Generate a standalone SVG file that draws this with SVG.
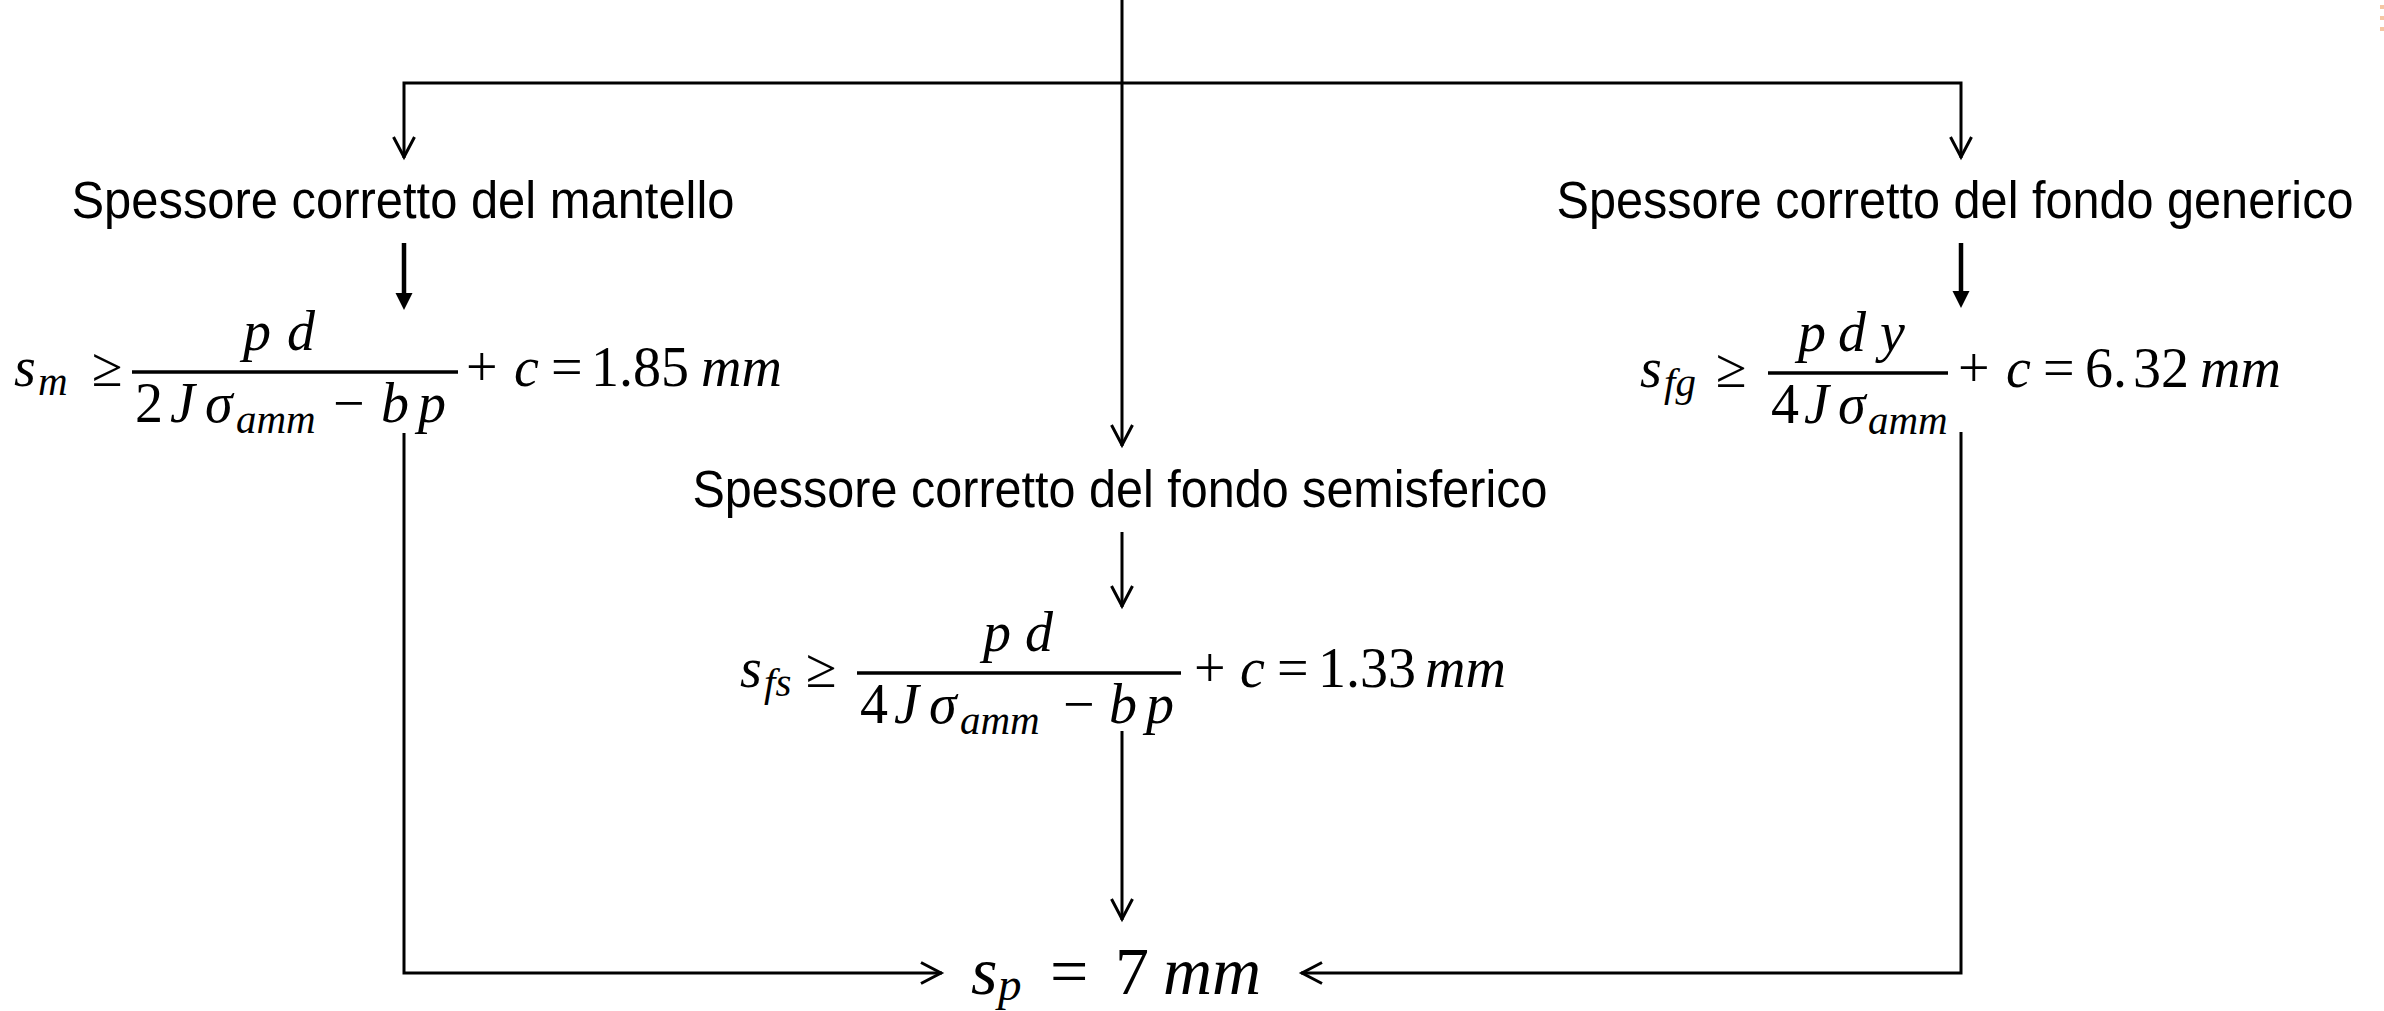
<svg xmlns="http://www.w3.org/2000/svg" width="2384" height="1011" viewBox="0 0 2384 1011">
<style>
.lbl{font-family:"Liberation Sans",Arial,sans-serif;font-size:51px;fill:#000;text-anchor:middle}
.mi{font-family:"Liberation Serif","Times New Roman",serif;font-size:56px;font-style:italic;fill:#000}
.mn{font-family:"Liberation Serif","Times New Roman",serif;font-size:56px;fill:#000}
.sb{font-size:41px}
.big{font-size:68px}
.sbb{font-size:47px}
.frac{stroke:#000;stroke-width:3.5}
.thin{fill:none;stroke:#000;stroke-width:3}
.thick{fill:none;stroke:#000;stroke-width:4.5}
</style>
<defs>
<marker id="chev" viewBox="-25 -15 30 30" markerWidth="30" markerHeight="30" refX="1" refY="0" orient="auto-start-reverse" markerUnits="userSpaceOnUse">
<path d="M-20,-10.5 L0,0 L-20,10.5" fill="none" stroke="#000" stroke-width="3"/>
</marker>
<marker id="tri" viewBox="-5 -10 22 20" markerWidth="22" markerHeight="20" refX="0" refY="0" orient="auto" markerUnits="userSpaceOnUse">
<path d="M-3,-8.5 L14,0 L-3,8.5 Z" fill="#000"/>
</marker>
</defs>
<rect width="2384" height="1011" fill="#fff"/>
<g id="connectors">
<path class="thin" d="M1122,0 V446" marker-end="url(#chev)"/>
<path class="thin" d="M404,158 V83 H1961 V158" marker-start="url(#chev)" marker-end="url(#chev)"/>
<path class="thick" d="M404,243 V296" marker-end="url(#tri)"/>
<path class="thick" d="M1961,243 V294" marker-end="url(#tri)"/>
<path class="thin" d="M1122,532 V607" marker-end="url(#chev)"/>
<path class="thin" d="M1122,731 V920" marker-end="url(#chev)"/>
<path class="thin" d="M404,433 V973 H942" marker-end="url(#chev)"/>
<path class="thin" d="M1961,432 V973 H1301" marker-end="url(#chev)"/>
</g>
<g id="n-mantello">
<text class="lbl" x="403" y="218" textLength="663" lengthAdjust="spacingAndGlyphs">Spessore corretto del mantello</text>
</g>
<g id="n-generico">
<text class="lbl" x="1955" y="218" textLength="797" lengthAdjust="spacingAndGlyphs">Spessore corretto del fondo generico</text>
</g>
<g id="n-semisferico">
<text class="lbl" x="1120" y="507" textLength="855" lengthAdjust="spacingAndGlyphs">Spessore corretto del fondo semisferico</text>
</g>
<g id="n-sm">
<text class="mi" x="14" y="386">s</text>
<text class="mi sb" x="38" y="395">m</text>
<text class="mn" x="92" y="386">≥</text>
<line class="frac" x1="132" y1="372" x2="458" y2="372"/>
<text class="mi" x="243" y="350">p</text>
<text class="mi" x="287" y="350">d</text>
<text class="mn" x="135" y="422">2</text>
<text class="mi" x="170" y="422">J</text>
<text class="mi" x="205" y="422">σ</text>
<text class="mi sb" x="236" y="433">amm</text>
<text class="mn" x="333" y="422">−</text>
<text class="mi" x="381" y="422">b</text>
<text class="mi" x="418" y="422">p</text>
<text class="mn" x="466" y="386">+</text>
<text class="mi" x="514" y="386">c</text>
<text class="mn" x="551" y="386">=</text>
<text class="mn" x="591" y="386">1.85</text>
<text class="mi" x="701" y="386">mm</text>
</g>
<g id="n-sfg">
<text class="mi" x="1640" y="387">s</text>
<text class="mi sb" x="1664" y="396">fg</text>
<text class="mn" x="1716" y="387">≥</text>
<line class="frac" x1="1768" y1="373" x2="1948" y2="373"/>
<text class="mi" x="1798" y="351">p</text>
<text class="mi" x="1838" y="351">d</text>
<text class="mi" x="1880" y="351">y</text>
<text class="mn" x="1771" y="423">4</text>
<text class="mi" x="1804" y="423">J</text>
<text class="mi" x="1838" y="423">σ</text>
<text class="mi sb" x="1868" y="434">amm</text>
<text class="mn" x="1958" y="387">+</text>
<text class="mi" x="2006" y="387">c</text>
<text class="mn" x="2043" y="387">=</text>
<text class="mn" x="2085" y="387">6.</text>
<text class="mn" x="2133" y="387">32</text>
<text class="mi" x="2200" y="387">mm</text>
</g>
<g id="n-sfs">
<text class="mi" x="740" y="687">s</text>
<text class="mi sb" x="764" y="696">fs</text>
<text class="mn" x="806" y="687">≥</text>
<line class="frac" x1="857" y1="673" x2="1181" y2="673"/>
<text class="mi" x="983" y="651">p</text>
<text class="mi" x="1025" y="651">d</text>
<text class="mn" x="860" y="723">4</text>
<text class="mi" x="894" y="723">J</text>
<text class="mi" x="929" y="723">σ</text>
<text class="mi sb" x="960" y="734">amm</text>
<text class="mn" x="1063" y="723">−</text>
<text class="mi" x="1109" y="723">b</text>
<text class="mi" x="1146" y="723">p</text>
<text class="mn" x="1194" y="687">+</text>
<text class="mi" x="1240" y="687">c</text>
<text class="mn" x="1277" y="687">=</text>
<text class="mn" x="1318" y="687">1.33</text>
<text class="mi" x="1425" y="687">mm</text>
</g>
<g id="n-sp">
<text class="mi big" x="971" y="994">s</text>
<text class="mi sbb" x="998" y="1000">p</text>
<text class="mn big" x="1050" y="994">=</text>
<text class="mn big" x="1115" y="994">7</text>
<text class="mi big" x="1163" y="994">mm</text>
</g>
<g id="edge-marks" fill="#f5c6a2">
<rect x="2380" y="5" width="4" height="4"/>
<rect x="2380" y="16" width="4" height="4"/>
<rect x="2380" y="27" width="4" height="4"/>
</g>
</svg>
